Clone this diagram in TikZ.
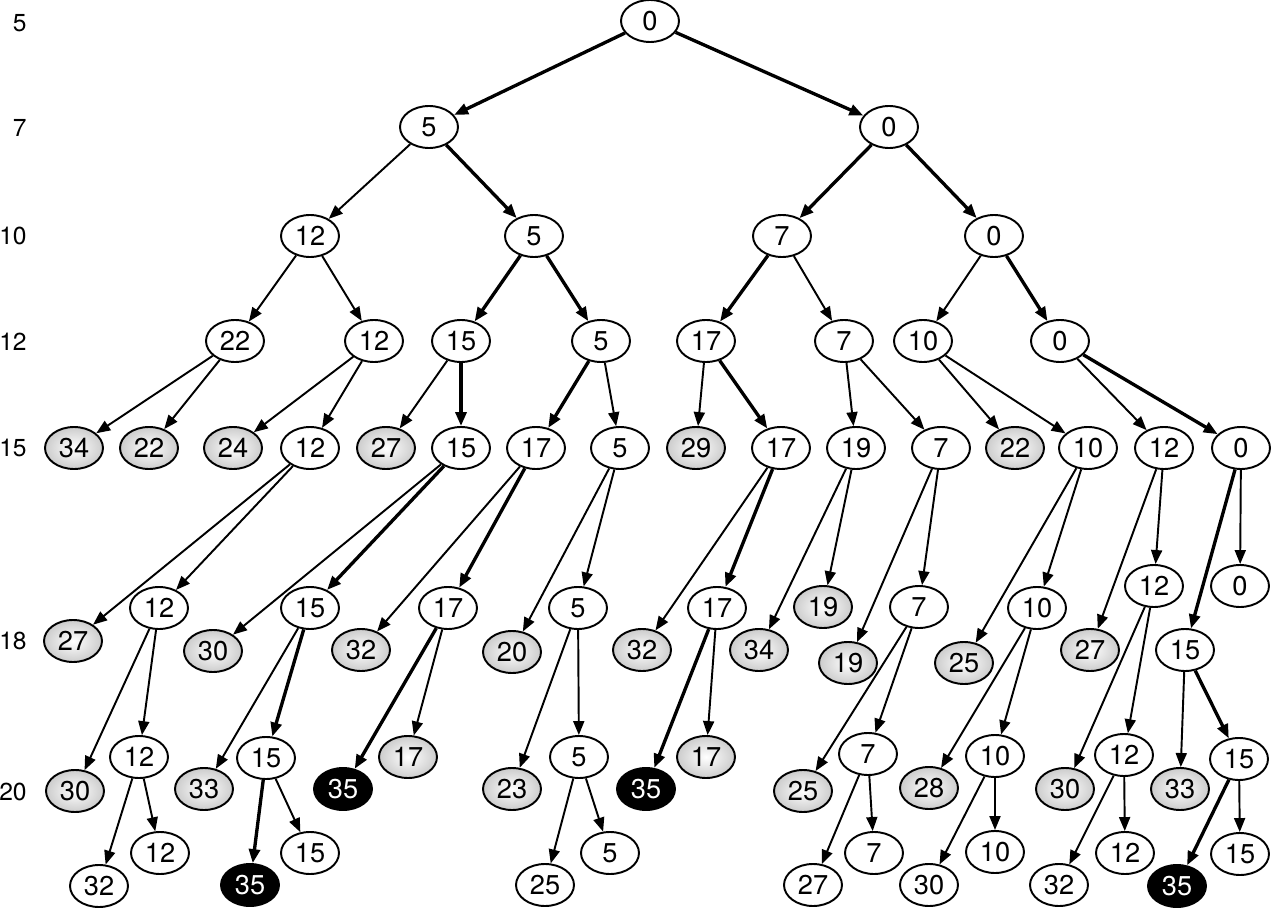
\documentclass[tikz,border=0pt]{standalone}
\usepackage{fontspec}
\setmainfont{TeX Gyre Heros}
\usetikzlibrary{arrows.meta,shapes.geometric}
\tikzset{
  nd/.style   = {draw, ellipse, line width=1.1pt, minimum width=11.6mm,
                 minimum height=8.4mm, inner sep=0pt,
                 font=\fontsize{15.5}{18}\selectfont},
  leaf/.style = {nd, shade, inner color=white, outer color=black!20},
  best/.style = {nd, fill=black, text=white},
  lvl/.style  = {anchor=east, inner sep=0pt, font=\fontsize{14}{17}\selectfont},
  ar/.style   = {-{Triangle[length=2.8mm,width=2.2mm]}, line width=1.1pt},
  tar/.style  = {ar, line width=1.9pt}
}
\begin{document}
\begin{tikzpicture}[x=0.02cm, y=-0.02cm]
  \useasboundingbox (0,0) rectangle (1272,909);
  \node[lvl] (y5)  at (27,23)  {5};
  \node[lvl] (y7)  at (27,128) {7};
  \node[lvl] (y10) at (27,236) {10};
  \node[lvl] (y12) at (27,342) {12};
  \node[lvl] (y15) at (27,448) {15};
  \node[lvl] (y18) at (27,641) {18};
  \node[lvl] (y20) at (27,792) {20};

  \node[nd] (r)  at (650,21)  {0};
  \node[nd] (a1) at (429,127) {5};
  \node[nd] (a2) at (889,127) {0};
  \node[nd] (b1) at (310,236) {12};
  \node[nd] (b2) at (534,236) {5};
  \node[nd] (b3) at (782,236) {7};
  \node[nd] (b4) at (994,236) {0};
  \node[nd] (c1) at (235,341) {22};
  \node[nd] (c2) at (374,341) {12};
  \node[nd] (c3) at (461,341) {15};
  \node[nd] (c4) at (601,341) {5};
  \node[nd] (c5) at (706,341) {17};
  \node[nd] (c6) at (844,341) {7};
  \node[nd] (c7) at (923,341) {10};
  \node[nd] (c8) at (1060,341) {0};

  \node[leaf] (d1)  at (74,448)   {34};
  \node[leaf] (d2)  at (149,448)  {22};
  \node[leaf] (d3)  at (233,448)  {24};
  \node[nd]   (d4)  at (310,448)  {12};
  \node[leaf] (d5)  at (386,448)  {27};
  \node[nd]   (d6)  at (461,448)  {15};
  \node[nd]   (d7)  at (536,448)  {17};
  \node[nd]   (d8)  at (620,448)  {5};
  \node[leaf] (d9)  at (696,448)  {29};
  \node[nd]   (d10) at (781,448)  {17};
  \node[nd]   (d11) at (856,448)  {19};
  \node[nd]   (d12) at (941,448)  {7};
  \node[leaf] (d13) at (1015,448) {22};
  \node[nd]   (d14) at (1088,448) {10};
  \node[nd]   (d15) at (1164,448) {12};
  \node[nd]   (d16) at (1241,448) {0};

  \node[leaf] (e1)  at (73,641)   {27};
  \node[nd]   (e2)  at (159,608)  {12};
  \node[leaf] (e3)  at (213,651)  {30};
  \node[nd]   (e4)  at (310,608)  {15};
  \node[leaf] (e5)  at (361,650)  {32};
  \node[nd]   (e6)  at (448,608)  {17};
  \node[leaf] (e7)  at (512,652)  {20};
  \node[nd]   (e8)  at (578,608)  {5};
  \node[leaf] (e9)  at (642,650)  {32};
  \node[nd]   (e10) at (717,608)  {17};
  \node[leaf] (e11) at (759,650)  {34};
  \node[leaf] (e12) at (823,607)  {19};
  \node[leaf] (e13) at (848,663)  {19};
  \node[nd]   (e14) at (919,607)  {7};
  \node[leaf] (e15) at (964,663)  {25};
  \node[nd]   (e16) at (1037,608) {10};
  \node[leaf] (e17) at (1090,650) {27};
  \node[nd]   (e18) at (1154,586) {12};
  \node[nd]   (e19) at (1185,650) {15};
  \node[nd]   (e20) at (1240,586) {0};

  \node[leaf] (f1)  at (75,791)   {30};
  \node[nd]   (f2)  at (139,757)  {12};
  \node[leaf] (f3)  at (204,789)  {33};
  \node[nd]   (f4)  at (266,758)  {15};
  \node[best] (f5)  at (343,789)  {35};
  \node[leaf] (f6)  at (408,757)  {17};
  \node[leaf] (f7)  at (512,789)  {23};
  \node[nd]   (f8)  at (579,757)  {5};
  \node[best] (f9)  at (646,789)  {35};
  \node[leaf] (f10) at (706,757)  {17};
  \node[leaf] (f11) at (803,791)  {25};
  \node[nd]   (f12) at (868,754)  {7};
  \node[leaf] (f13) at (929,788)  {28};
  \node[nd]   (f14) at (995,756)  {10};
  \node[leaf] (f15) at (1065,789) {30};
  \node[nd]   (f16) at (1124,755) {12};
  \node[leaf] (f17) at (1180,789) {33};
  \node[nd]   (f18) at (1239,759) {15};

  \node[nd]   (g1)  at (99,886)   {32};
  \node[nd]   (g2)  at (160,853)  {12};
  \node[best] (g3)  at (250,885)  {35};
  \node[nd]   (g4)  at (310,853)  {15};
  \node[nd]   (g5)  at (545,885)  {25};
  \node[nd]   (g6)  at (610,853)  {5};
  \node[nd]   (g7)  at (813,885)  {27};
  \node[nd]   (g8)  at (874,853)  {7};
  \node[nd]   (g9)  at (929,885)  {30};
  \node[nd]   (g10) at (995,852)  {10};
  \node[nd]   (g11) at (1059,885) {32};
  \node[nd]   (g12) at (1125,853) {12};
  \node[best] (g13) at (1177,886) {35};
  \node[nd]   (g14) at (1240,854) {15};

  \draw[tar] (r) -- (a1);   \draw[tar] (r) -- (a2);
  \draw[ar]  (a1) -- (b1);  \draw[tar] (a1) -- (b2);
  \draw[tar] (a2) -- (b3);  \draw[tar] (a2) -- (b4);
  \draw[ar]  (b1) -- (c1);  \draw[ar]  (b1) -- (c2);
  \draw[tar] (b2) -- (c3);  \draw[tar] (b2) -- (c4);
  \draw[tar] (b3) -- (c5);  \draw[ar]  (b3) -- (c6);
  \draw[ar]  (b4) -- (c7);  \draw[tar] (b4) -- (c8);
  \draw[ar]  (c1) -- (d1);  \draw[ar]  (c1) -- (d2);
  \draw[ar]  (c2) -- (d3);  \draw[ar]  (c2) -- (d4);
  \draw[ar]  (c3) -- (d5);  \draw[tar] (c3) -- (d6);
  \draw[tar] (c4) -- (d7);  \draw[ar]  (c4) -- (d8);
  \draw[ar]  (c5) -- (d9);  \draw[tar] (c5) -- (d10);
  \draw[ar]  (c6) -- (d11); \draw[ar]  (c6) -- (d12);
  \draw[ar]  (c7) -- (d13); \draw[ar]  (c7) -- (d14);
  \draw[ar]  (c8) -- (d15); \draw[tar] (c8) -- (d16);
  \draw[ar]  (d4) -- (e1);  \draw[ar]  (d4) -- (e2);
  \draw[ar]  (d6) -- (e3);  \draw[tar] (d6) -- (e4);
  \draw[ar]  (d7) -- (e5);  \draw[tar] (d7) -- (e6);
  \draw[ar]  (d8) -- (e7);  \draw[ar]  (d8) -- (e8);
  \draw[ar]  (d10) -- (e9); \draw[tar] (d10) -- (e10);
  \draw[ar]  (d11) -- (e11); \draw[ar] (d11) -- (e12);
  \draw[ar]  (d12) -- (e13); \draw[ar] (d12) -- (e14);
  \draw[ar]  (d14) -- (e15); \draw[ar] (d14) -- (e16);
  \draw[ar]  (d15) -- (e17); \draw[ar] (d15) -- (e18);
  \draw[tar] (d16) -- (e19); \draw[ar] (d16) -- (e20);
  \draw[ar]  (e2) -- (f1);  \draw[ar]  (e2) -- (f2);
  \draw[ar]  (e4) -- (f3);  \draw[tar] (e4) -- (f4);
  \draw[tar] (e6) -- (f5);  \draw[ar]  (e6) -- (f6);
  \draw[ar]  (e8) -- (f7);  \draw[ar]  (e8) -- (f8);
  \draw[tar] (e10) -- (f9); \draw[ar]  (e10) -- (f10);
  \draw[ar]  (e14) -- (f11); \draw[ar] (e14) -- (f12);
  \draw[ar]  (e16) -- (f13); \draw[ar] (e16) -- (f14);
  \draw[ar]  (e18) -- (f15); \draw[ar] (e18) -- (f16);
  \draw[ar]  (e19) -- (f17); \draw[tar] (e19) -- (f18);
  \draw[ar]  (f2) -- (g1);  \draw[ar]  (f2) -- (g2);
  \draw[tar] (f4) -- (g3);  \draw[ar]  (f4) -- (g4);
  \draw[ar]  (f8) -- (g5);  \draw[ar]  (f8) -- (g6);
  \draw[ar]  (f12) -- (g7); \draw[ar]  (f12) -- (g8);
  \draw[ar]  (f14) -- (g9); \draw[ar]  (f14) -- (g10);
  \draw[ar]  (f16) -- (g11); \draw[ar] (f16) -- (g12);
  \draw[tar] (f18) -- (g13); \draw[ar] (f18) -- (g14);
\end{tikzpicture}
\end{document}
